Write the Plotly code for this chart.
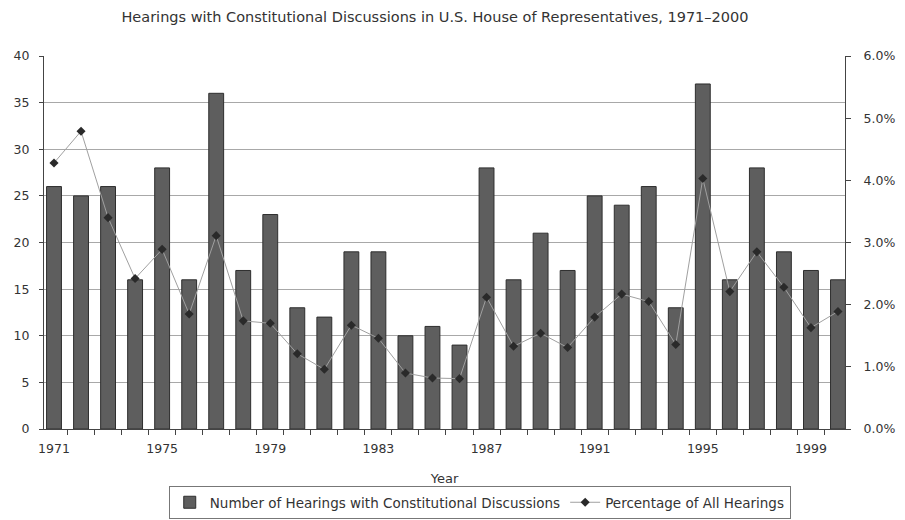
import plotly.graph_objects as go

years = list(range(1971, 2001))
hearings = [26, 25, 26, 16, 28, 16, 36, 17, 23, 13, 12, 19, 19, 10, 11,
            9, 28, 16, 21, 17, 25, 24, 26, 13, 37, 16, 28, 19, 17, 16]
pct = [4.28, 4.79, 3.40, 2.42, 2.89, 1.85, 3.11, 1.74, 1.70, 1.21, 0.96, 1.67, 1.46, 0.90, 0.82,
       0.81, 2.12, 1.33, 1.54, 1.31, 1.80, 2.17, 2.05, 1.36, 4.03, 2.21, 2.85, 2.28, 1.63, 1.89]
pct_frac = [p / 100 for p in pct]
x_ticks = [1971, 1975, 1979, 1983, 1987, 1991, 1995, 1999]

font = "Liberation Sans, Arial, sans-serif"
wide = "DejaVu Sans, Verdana, sans-serif"

fig = go.Figure()
fig.add_trace(go.Bar(
    x=years, y=hearings, name="Number of Hearings with Constitutional Discussions",
    marker=dict(color="#5e5e5e", line=dict(color="#2e2e2e", width=1)),
    width=0.55,
))
fig.add_trace(go.Scatter(
    x=years, y=pct_frac, name="Percentage of All Hearings", yaxis="y2",
    mode="lines+markers",
    line=dict(color="#a0a0a0", width=1),
    marker=dict(symbol="diamond", size=7, color="#2a2a2a"),
))

# page body has an 8px margin, so the figure is drawn 8px smaller and offset
fig.update_layout(
    width=897, height=512,
    paper_bgcolor="white", plot_bgcolor="white",
    margin=dict(l=36, r=60, t=48, b=91, autoexpand=False),
    font=dict(family=font, size=13, color="#333"),
    title=dict(text="Hearings with Constitutional Discussions in U.S. House of Representatives, 1971\u20132000",
               x=0.476, xanchor="center", y=0.982, yanchor="middle",
               font=dict(family=wide, size=14.5, color="#333")),
    xaxis=dict(
        range=[1970.63, 2000.26], tickvals=x_ticks, ticktext=[str(v) for v in x_ticks],
        showline=True, linecolor="#444", linewidth=1, ticks="", showgrid=False,
        minor=dict(tick0=1970.5, dtick=1, ticks="outside", ticklen=5, tickcolor="#444"),
        title=dict(text="Year", standoff=18, font=dict(family=wide, size=13)),
        tickfont=dict(family=wide, size=12.5),
        ticklabelstandoff=8,
    ),
    yaxis=dict(
        range=[0, 40], dtick=5, showline=True, linecolor="#444", linewidth=1,
        ticks="outside", ticklen=4, tickcolor="#444",
        showgrid=True, gridcolor="#a8a8a8", gridwidth=1, zeroline=False,
        tickfont=dict(family=wide, size=12.5),
        ticklabelstandoff=7,
    ),
    yaxis2=dict(
        range=[0, 0.06], dtick=0.01, tickformat=".1%", overlaying="y", side="right",
        showline=True, linecolor="#444", linewidth=1, ticks="outside", ticklen=5,
        tickcolor="#444", showgrid=False, zeroline=False,
        tickfont=dict(family=wide, size=12.5),
        ticklabelstandoff=10,
    ),
    legend=dict(orientation="h", x=0.544, xanchor="center", y=-0.197, yanchor="middle",
                bordercolor="#777", borderwidth=1, font=dict(family=wide, size=13.5),
                itemwidth=30, tracegroupgap=0),
    bargap=0.4,
    showlegend=True,
)

fig.write_html("out.html")
